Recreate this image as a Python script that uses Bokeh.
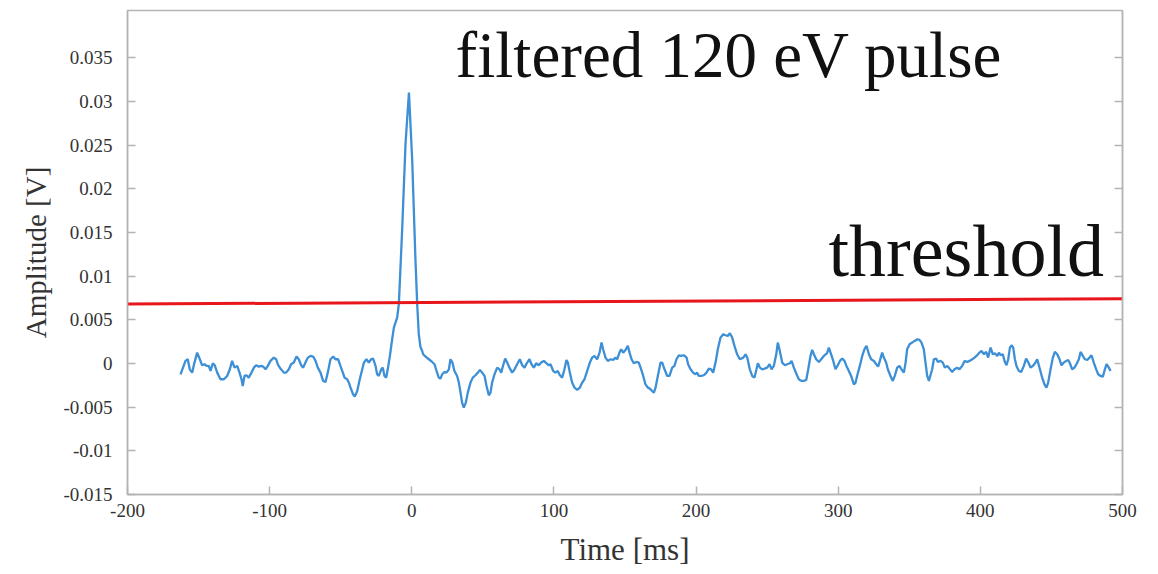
from bokeh.plotting import figure
from bokeh.models import Label, LinearAxis, FixedTicker, Range1d
from bokeh.embed import file_html
from bokeh.resources import INLINE

# Filtered detector trace around a 120 eV event
time_ms = [
    -162.7, -159.2, -157.6, -156.2, -154.5, -152.9, -151.0, -149.1, -147.5, -145.8,
    -144.4, -142.8, -141.6, -140.0, -138.6, -136.9, -134.6, -132.2, -129.9, -128.0,
    -126.4, -124.7, -122.8, -121.2, -119.8, -118.9, -117.7, -116.3, -114.7, -112.8,
    -111.1, -109.5, -107.6, -106.0, -104.6, -102.9, -101.3, -99.4, -97.1, -95.4,
    -94.3, -92.4, -90.0, -88.4, -86.5, -84.9, -83.0, -81.1, -79.5, -77.8,
    -76.4, -74.8, -73.1, -71.3, -69.4, -67.7, -66.1, -64.2, -62.4, -60.7,
    -59.1, -57.2, -55.3, -53.7, -51.8, -50.2, -48.5, -47.3, -45.5, -44.3,
    -43.1, -41.3, -40.1, -38.4, -36.6, -33.7, -31.9, -30.2, -28.6, -27.2,
    -25.5, -24.4, -23.2, -21.5, -20.4, -19.2, -18.0, -16.9, -15.4, -13.8,
    -12.6, -10.3, -9.1, -6.7, -4.4, -2.0, 0.3, 2.6, 3.8, 4.9,
    6.1, 7.3, 8.0, 9.7, 12.0, 14.3, 16.0, 17.4, 19.0, 20.2,
    21.4, 23.0, 24.4, 26.1, 27.2, 28.6, 30.0, 31.9, 33.1, 34.3,
    35.4, 36.6, 38.0, 39.4, 41.3, 42.9, 44.8, 46.5, 47.9, 49.5,
    51.2, 52.6, 54.2, 55.4, 56.5, 58.2, 60.1, 61.7, 62.9, 64.3,
    65.7, 67.1, 68.7, 70.6, 72.3, 74.1, 76.0, 77.7, 79.3, 81.2,
    82.8, 84.2, 85.9, 87.5, 89.4, 91.0, 92.9, 94.8, 96.4, 97.6,
    99.5, 101.1, 102.7, 104.2, 105.8, 107.4, 108.8, 109.8, 111.2, 112.8,
    114.5, 116.4, 118.2, 119.9, 121.5, 123.4, 125.3, 126.9, 128.5, 130.4,
    132.1, 133.5, 134.6, 136.3, 137.9, 139.8, 141.7, 143.3, 144.5, 146.1,
    147.3, 148.7, 150.4, 152.0, 153.2, 154.6, 156.2, 158.1, 159.7, 161.4,
    162.8, 164.4, 166.1, 167.5, 169.1, 170.3, 171.5, 173.1, 175.0, 176.2,
    177.8, 179.7, 181.3, 183.2, 184.8, 186.2, 187.9, 189.5, 191.4, 193.3,
    194.4, 196.1, 197.9, 199.6, 200.8, 201.9, 203.6, 205.5, 207.3, 209.0,
    210.6, 212.0, 213.7, 215.3, 217.2, 219.1, 220.7, 222.3, 223.8, 225.4,
    227.0, 228.9, 230.8, 233.2, 234.8, 236.0, 237.8, 239.5, 241.1, 242.5,
    243.5, 244.9, 246.5, 248.2, 250.0, 251.7, 253.1, 254.7, 256.4, 257.5,
    258.9, 260.6, 262.5, 264.1, 266.0, 267.2, 268.8, 270.7, 272.3, 274.0,
    275.8, 277.5, 278.9, 280.5, 281.7, 282.9, 284.5, 286.4, 288.0, 289.9,
    292.2, 293.4, 294.6, 296.5, 298.1, 299.7, 301.2, 302.8, 304.4, 305.8,
    307.5, 309.1, 311.0, 312.2, 313.3, 315.2, 316.9, 318.5, 319.9, 321.6,
    323.2, 325.1, 326.7, 328.1, 329.3, 330.9, 332.1, 333.7, 334.9, 336.8,
    338.4, 339.8, 341.5, 343.1, 344.5, 346.2, 347.4, 348.5, 350.2, 352.0,
    353.7, 355.6, 357.2, 358.6, 360.2, 361.4, 362.6, 363.8, 366.1, 367.3,
    368.9, 370.1, 372.0, 373.6, 375.0, 376.7, 378.3, 380.2, 381.8, 383.7,
    385.3, 387.2, 388.9, 390.7, 392.4, 394.3, 395.9, 397.8, 399.4, 400.8,
    402.5, 404.1, 405.5, 407.2, 408.8, 410.2, 411.9, 413.0, 414.2, 415.8,
    417.0, 418.4, 419.6, 420.8, 421.9, 423.1, 424.3, 425.4, 427.1, 428.7,
    430.6, 432.2, 433.6, 435.3, 436.9, 438.8, 440.0, 441.9, 443.5, 445.1,
    446.5, 447.7, 449.4, 451.0, 452.4, 454.1, 455.7, 457.1, 458.7, 460.4,
    461.8, 463.0, 464.6, 466.2, 467.6, 469.3, 470.5, 472.1, 473.5, 475.2,
    476.8, 478.2, 479.8, 481.5, 482.9, 484.5, 486.2, 487.6, 488.8, 490.4,
    491.6,
]

amplitude_v = [
    -0.00124, 0.00029, 0.00048, -0.00067, -0.00105, 0.00010, 0.00124, 0.00048, -0.00021, -0.00009,
    -0.00028, -0.00028, -0.00086, 0.00002, -0.00021, -0.00105, -0.00181, -0.00181, -0.00143, -0.00067,
    0.00029, -0.00048, -0.00028, -0.00105, -0.00181, -0.00258, -0.00143, -0.00135, -0.00162, -0.00105,
    -0.00048, -0.00021, -0.00036, -0.00028, -0.00036, -0.00067, -0.00028, 0.00029, 0.00067, 0.00048,
    -0.00009, -0.00059, -0.00105, -0.00105, -0.00067, -0.00009, 0.00010, 0.00079, 0.00048, -0.00021,
    -0.00048, 0.00010, 0.00067, 0.00086, 0.00079, 0.00029, -0.00048, -0.00105, -0.00200, -0.00212,
    -0.00105, 0.00048, 0.00079, 0.00048, 0.00048, -0.00028, -0.00105, -0.00162, -0.00181, -0.00219,
    -0.00277, -0.00353, -0.00380, -0.00315, -0.00181, 0.00009, 0.00048, 0.00010, 0.00048, 0.00056,
    -0.00028, -0.00124, -0.00143, -0.00067, -0.00048, -0.00143, -0.00162, -0.00067, 0.00086, 0.00277,
    0.00411, 0.00525, 0.00679, 0.01558, 0.02518, 0.03100, 0.02323, 0.01176, 0.00682, 0.00338,
    0.00190, 0.00143, 0.00105, 0.00079, 0.00048, 0.00017, -0.00009, -0.00086, -0.00162, -0.00174,
    -0.00124, -0.00097, -0.00105, -0.00067, 0.00048, 0.00010, -0.00086, -0.00143, -0.00219, -0.00334,
    -0.00449, -0.00506, -0.00449, -0.00334, -0.00219, -0.00162, -0.00135, -0.00105, -0.00074, -0.00105,
    -0.00143, -0.00258, -0.00365, -0.00334, -0.00219, -0.00124, -0.00048, -0.00067, -0.00105, -0.00021,
    0.00056, 0.00010, -0.00048, -0.00105, -0.00067, -0.00009, 0.00048, -0.00021, -0.00048, 0.00010,
    0.00048, -0.00009, -0.00048, 0.00002, -0.00021, 0.00010, 0.00029, 0.00002, -0.00021, -0.00009,
    -0.00086, -0.00105, -0.00086, -0.00135, -0.00162, -0.00067, 0.00040, 0.00010, -0.00105, -0.00219,
    -0.00277, -0.00303, -0.00277, -0.00219, -0.00181, -0.00086, 0.00010, 0.00067, 0.00086, 0.00048,
    0.00124, 0.00239, 0.00163, 0.00067, 0.00029, 0.00048, 0.00040, 0.00067, 0.00048, 0.00124,
    0.00163, 0.00124, 0.00155, 0.00201, 0.00124, 0.00048, 0.00002, 0.00017, 0.00010, -0.00067,
    -0.00143, -0.00239, -0.00277, -0.00288, -0.00315, -0.00334, -0.00277, -0.00143, 0.00010, 0.00010,
    -0.00067, -0.00143, -0.00143, -0.00048, -0.00028, 0.00048, 0.00094, 0.00086, 0.00094, 0.00067,
    -0.00009, -0.00067, -0.00105, -0.00124, -0.00105, -0.00143, -0.00143, -0.00135, -0.00105, -0.00059,
    -0.00067, -0.00105, 0.00010, 0.00163, 0.00296, 0.00335, 0.00323, 0.00315, 0.00346, 0.00296,
    0.00201, 0.00105, 0.00048, 0.00067, 0.00105, 0.00067, -0.00067, -0.00143, -0.00162, -0.00067,
    0.00002, -0.00048, -0.00067, -0.00059, -0.00048, -0.00009, -0.00067, -0.00028, 0.00105, 0.00239,
    0.00144, 0.00010, -0.00021, -0.00009, 0.00002, 0.00029, -0.00048, -0.00124, -0.00181, -0.00200,
    -0.00200, -0.00189, -0.00067, 0.00086, 0.00155, 0.00105, 0.00048, 0.00017, 0.00048, 0.00086,
    0.00117, 0.00182, 0.00124, 0.00029, -0.00067, -0.00021, 0.00029, 0.00056, 0.00029, -0.00028,
    -0.00086, -0.00143, -0.00239, -0.00219, -0.00143, -0.00028, 0.00086, 0.00163, 0.00201, 0.00105,
    0.00048, 0.00029, -0.00009, -0.00036, 0.00029, 0.00124, 0.00067, 0.00010, -0.00067, -0.00143,
    -0.00200, -0.00143, -0.00048, -0.00028, -0.00067, -0.00105, 0.00010, 0.00163, 0.00220, 0.00239,
    0.00258, 0.00277, 0.00270, 0.00239, 0.00163, 0.00010, -0.00143, -0.00200, -0.00067, 0.00048,
    0.00056, 0.00017, 0.00029, 0.00010, -0.00048, -0.00028, -0.00059, -0.00097, -0.00067, -0.00048,
    -0.00067, -0.00028, 0.00029, 0.00017, 0.00029, 0.00048, 0.00067, 0.00094, 0.00124, 0.00144,
    0.00105, 0.00132, 0.00067, 0.00182, 0.00105, 0.00117, 0.00086, 0.00124, 0.00094, 0.00105,
    0.00029, -0.00021, 0.00048, 0.00182, 0.00208, 0.00182, 0.00048, -0.00028, -0.00086, -0.00097,
    -0.00028, 0.00056, 0.00017, -0.00048, -0.00028, 0.00010, 0.00048, -0.00067, -0.00162, -0.00239,
    -0.00277, -0.00219, -0.00067, 0.00067, 0.00132, 0.00105, 0.00048, -0.00021, 0.00010, 0.00029,
    0.00040, 0.00002, -0.00067, -0.00048, -0.00009, 0.00048, 0.00132, 0.00086, 0.00048, 0.00040,
    0.00067, 0.00094, 0.00010, -0.00067, -0.00124, -0.00143, -0.00151, -0.00067, -0.00009, -0.00048,
    -0.00086,
]

# Trigger threshold drawn across the full time window
threshold_t = [-200, 500]
threshold_v = [0.0068, 0.0074]

x_ticks = [-200, -100, 0, 100, 200, 300, 400, 500]
x_tick_labels = ["-200", "-100", "0", "100", "200", "300", "400", "500"]
y_ticks = [-0.015, -0.01, -0.005, 0, 0.005, 0.01, 0.015, 0.02, 0.025, 0.03, 0.035]
y_tick_labels = ["-0.015", "-0.01", "-0.005", "0", "0.005", "0.01", "0.015",
                 "0.02", "0.025", "0.03", "0.035"]

SERIF = "Liberation Serif"
AXIS_GRAY = "#b4b4b4"
TEXT_GRAY = "#333333"

p = figure(width=1158, height=574, output_backend="svg", toolbar_location=None,
           x_range=Range1d(-200, 500), y_range=Range1d(-0.015, 0.0404),
           min_border_left=127, min_border_right=36, min_border_top=10,
           min_border_bottom=80, background_fill_color="white",
           border_fill_color="white")
p.grid.visible = False
p.outline_line_color = AXIS_GRAY
p.outline_line_width = 1.5

p.line(time_ms, amplitude_v, line_color="#3d8fd6", line_width=2.3)
p.line(threshold_t, threshold_v, line_color="#e8161b", line_width=3)


def style_axis(ax):
    ax.axis_line_color = AXIS_GRAY
    ax.axis_line_width = 1.5
    ax.major_tick_line_color = AXIS_GRAY
    ax.major_tick_line_width = 1.5
    ax.major_tick_in = 8
    ax.major_tick_out = 0
    ax.minor_tick_line_color = None
    ax.major_label_text_font = SERIF
    ax.major_label_text_font_size = "19px"
    ax.major_label_text_color = TEXT_GRAY
    ax.axis_label_text_font = SERIF
    ax.axis_label_text_font_style = "normal"
    ax.axis_label_text_color = TEXT_GRAY


xa = p.xaxis[0]
xa.ticker = FixedTicker(ticks=x_ticks)
xa.major_label_overrides = {t: s for t, s in zip(x_ticks, x_tick_labels)}
xa.axis_label = "Time [ms]"
style_axis(xa)
xa.axis_label_text_font_size = "31px"
xa.major_label_standoff = 9
xa.axis_label_standoff = 12

ya = p.yaxis[0]
ya.ticker = FixedTicker(ticks=y_ticks)
ya.major_label_overrides = {t: s for t, s in zip(y_ticks, y_tick_labels)}
ya.axis_label = "Amplitude [V]"
style_axis(ya)
ya.axis_label_text_font_size = "29px"
ya.major_label_standoff = 15
ya.axis_label_standoff = 8

right_ax = LinearAxis(ticker=FixedTicker(ticks=y_ticks),
                      major_label_overrides={t: "" for t in y_ticks})
style_axis(right_ax)
right_ax.major_label_standoff = 0
p.add_layout(right_ax, "right")

p.add_layout(Label(x=30.8, y=0.0353, text="filtered 120 eV pulse",
                   text_font=SERIF, text_font_size="65px",
                   text_color="#111111", text_baseline="alphabetic"))
p.add_layout(Label(x=293.2, y=0.0129, text="threshold",
                   text_font=SERIF, text_font_size="74px",
                   text_color="#111111", text_baseline="alphabetic"))

open("out.html", "w").write(file_html(p, INLINE))
